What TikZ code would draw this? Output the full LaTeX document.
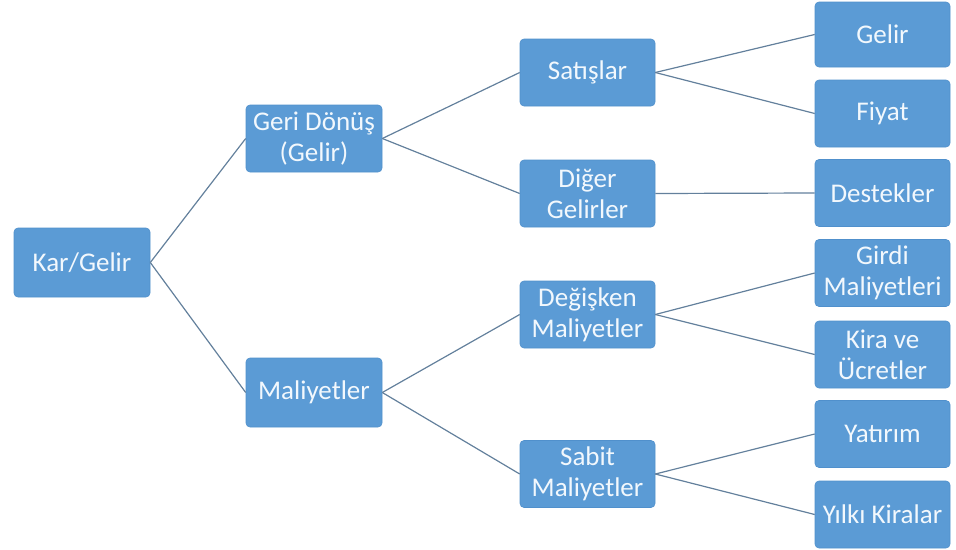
\documentclass[tikz,border=0pt]{standalone}
\usepackage{fontspec}
\setmainfont{Carlito}
\definecolor{boxblue}{HTML}{5B9BD5}
\definecolor{boxedge}{HTML}{5090CC}
\definecolor{boxtext}{HTML}{F2F8FD}
\definecolor{linkgray}{HTML}{63809C}
\begin{document}
\begin{tikzpicture}[x=1pt,y=-1pt,
  box/.style={rectangle, rounded corners=4pt, fill=boxblue, draw=boxedge, line width=0.6pt,
    minimum width=135pt, minimum height=67pt, inner sep=0pt, align=center,
    text=boxtext, font=\fontsize{27}{31}\selectfont},
  link/.style={draw=linkgray, line width=1.2pt}]
\useasboundingbox (0,0) rectangle (956,549);
% root and first level
\node[box, minimum width=136pt, minimum height=69pt] (kar) at (82,262.5) {Kar/Gelir};
\node[box, minimum width=136pt] (geri) at (314,138.5) {Geri Dönüş\\(Gelir)};
\node[box, minimum width=136pt, minimum height=69pt] (mal) at (314,392.5) {Maliyetler};
% second level
\node[box] (sat) at (587.5,72.5) {Satışlar};
\node[box] (diger) at (587.5,193.5) {Diğer\\Gelirler};
\node[box] (degis) at (587.5,314.5) {Değişken\\Maliyetler};
\node[box] (sabit) at (587.5,474) {Sabit\\Maliyetler};
% leaves
\node[box, minimum height=65pt] (gelir) at (882.5,34.5) {Gelir};
\node[box] (fiyat) at (882.5,113.5) {Fiyat};
\node[box] (destek) at (882.5,193) {Destekler};
\node[box] (girdi) at (882.5,273) {Girdi\\Maliyetleri};
\node[box] (kira) at (882.5,354.5) {Kira ve\\Ücretler};
\node[box] (yatirim) at (882.5,434) {Yatırım};
\node[box] (yilki) at (882.5,514.5) {Yılkı Kiralar};
% connectors
\draw[link] (kar.east) -- (geri.west);
\draw[link] (kar.east) -- (mal.west);
\draw[link] (geri.east) -- (sat.west);
\draw[link] (geri.east) -- (diger.west);
\draw[link] (mal.east) -- (degis.west);
\draw[link] (mal.east) -- (sabit.west);
\draw[link] (sat.east) -- (gelir.west);
\draw[link] (sat.east) -- (fiyat.west);
\draw[link] (diger.east) -- (destek.west);
\draw[link] (degis.east) -- (girdi.west);
\draw[link] (degis.east) -- (kira.west);
\draw[link] (sabit.east) -- (yatirim.west);
\draw[link] (sabit.east) -- (yilki.west);
\end{tikzpicture}
\end{document}
